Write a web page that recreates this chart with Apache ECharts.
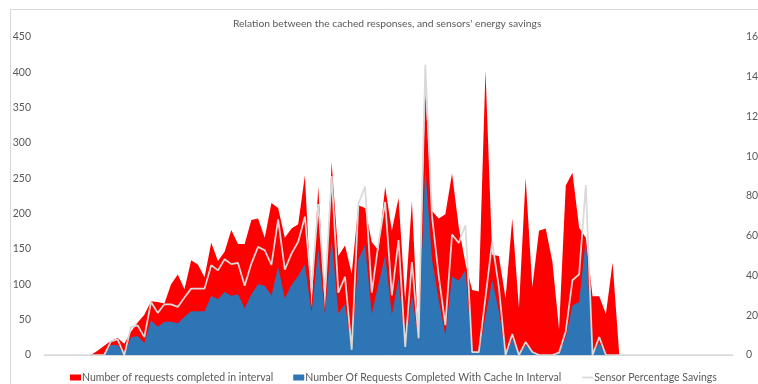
<!DOCTYPE html>
<html>
<head>
<meta charset="utf-8">
<script src="https://cdn.jsdelivr.net/npm/echarts@6/dist/echarts.min.js"></script>
<style>
  html, body { margin: 0; padding: 0; background: #fff; }
</style>
</head>
<body>
<div id="savings" style="width: 758px; height: 384px;"></div>
<script>
// requests completed per interval (left axis)
const requestsCompleted = [
  0, 0, 0, 0, 0, 0, 0, 0, 6, 13, 20, 24, 16, 33, 46, 57, 76, 75, 73, 100,
  114, 93, 134, 128, 110, 159, 133, 146, 177, 157, 157, 191, 193, 166, 215, 208, 166, 179, 185, 254,
  68, 238, 64, 273, 140, 155, 115, 212, 208, 160, 148, 238, 176, 222, 76, 218, 18, 372, 204, 193,
  199, 257, 181, 130, 92, 90, 403, 142, 140, 80, 193, 66, 251, 96, 176, 179, 132, 36, 240, 258,
  180, 166, 83, 83, 58, 131, 0, 0, 0, 0, 0, 0, 0, 0, 0, 0, 0, 0, 0, 0,
  0, 0, 0, 0
];
// requests completed with cache (left axis)
const requestsWithCache = [
  0, 0, 0, 0, 0, 0, 0, 0, 0, 0, 14, 14, 0, 25, 27, 17, 49, 40, 47, 47,
  45, 54, 62, 62, 62, 84, 79, 89, 84, 86, 66, 86, 100, 98, 84, 125, 80, 99, 112, 128,
  60, 150, 58, 165, 59, 72, 6, 135, 156, 58, 100, 141, 57, 108, 11, 85, 21, 266, 135, 78,
  28, 111, 105, 120, 3, 3, 54, 106, 62, 0, 22, 0, 14, 4, 0, 0, 0, 2, 25, 70,
  75, 165, 0, 17, 0, 0, 0, 0, 0, 0, 0, 0, 0, 0, 0, 0, 0, 0, 0, 0,
  0, 0, 0, 0
];
// sensor percentage savings (right axis)
const sensorSavings = [
  0, 0, 0, 0, 0, 0, 0, 0, 0, 0, 6.9, 7.9, 0, 14, 14.9, 9, 26.7, 21.2, 25.5, 25.5,
  24.2, 28.9, 33.4, 33.4, 33.4, 45.2, 42.6, 48.2, 45.7, 46.3, 34.8, 46, 54.4, 52.7, 45.3, 68.2, 43, 51, 57, 69.6,
  33, 76, 30, 90, 31.4, 39.3, 2.6, 76, 84.8, 31.4, 56, 77, 30, 57.8, 4, 46.8, 8.5, 146, 70, 40,
  15, 60.6, 56.4, 65.3, 1.5, 1.5, 29, 57, 34, 0, 10.5, 0, 6.5, 1.5, 0, 0, 0, 1.2, 12, 37.6,
  40.6, 85.5, 0, 9, 0, 0, 0, 0, 0, 0, 0, 0, 0, 0, 0, 0, 0, 0, 0, 0,
  0, 0, 0, 0
];
const intervals = [];
for (let i = 1; i <= requestsCompleted.length; i++) intervals.push(String(i));

const seriesNames = [
  "Number of requests completed in interval",
  "Number Of Requests Completed With Cache In Interval",
  "Sensor Percentage Savings"
];

const font = "Lato, 'Open Sans', sans-serif";
const myChart = echarts.init(document.getElementById("savings"));
myChart.setOption({
  animation: false,
  textStyle: { fontFamily: font },
  title: {
    text: "Relation between the cached responses, and sensors' energy savings",
    left: 228,
    top: 14,
    textStyle: { color: "#595959", fontSize: 10.3, fontWeight: "normal", fontFamily: font }
  },
  // thin frame of the original chart area
  graphic: [{
    type: "rect",
    silent: true,
    shape: { x: 10.5, y: 9.5, width: 800, height: 400 },
    style: { fill: "none", stroke: "#d9d9d9", lineWidth: 1 }
  }],
  legend: {
    left: 65,
    top: 367,
    width: 720,
    itemWidth: 11,
    itemHeight: 6,
    itemGap: 20,
    textStyle: { color: "#595959", fontSize: 10.5, fontFamily: font, padding: [0, 0, 0, -4] },
    data: [
      { name: seriesNames[0], icon: "rect" },
      { name: seriesNames[1], icon: "rect" },
      {
        name: seriesNames[2],
        itemStyle: { opacity: 0 },
        lineStyle: { color: "#d9d9d9", width: 1.75 }
      }
    ]
  },
  grid: { left: 44, right: 25, top: 37, bottom: 29, outerBoundsMode: "none", containLabel: false },
  xAxis: {
    type: "category",
    boundaryGap: false,
    data: intervals,
    axisLine: { lineStyle: { color: "#d9d9d9", width: 1 } },
    axisTick: { show: false },
    axisLabel: { show: false }
  },
  yAxis: [
    {
      type: "value",
      min: 0,
      max: 450,
      interval: 50,
      splitLine: { show: false },
      axisLine: { show: false },
      axisTick: { show: false },
      axisLabel: { color: "#595959", fontSize: 10.5, margin: 13 }
    },
    {
      type: "value",
      min: 0,
      max: 160,
      interval: 20,
      splitLine: { show: false },
      axisLine: { show: false },
      axisTick: { show: false },
      axisLabel: { color: "#595959", fontSize: 10.5, margin: 13 }
    }
  ],
  series: [
    {
      name: seriesNames[0],
      type: "line",
      yAxisIndex: 0,
      data: requestsCompleted,
      symbol: "none",
      lineStyle: { width: 0 },
      itemStyle: { color: "#ff0000" },
      areaStyle: { color: "#ff0000", opacity: 1 }
    },
    {
      name: seriesNames[1],
      type: "line",
      yAxisIndex: 0,
      data: requestsWithCache,
      symbol: "none",
      lineStyle: { width: 0 },
      itemStyle: { color: "#2e75b6" },
      areaStyle: { color: "#2e75b6", opacity: 1 }
    },
    {
      name: seriesNames[2],
      type: "line",
      yAxisIndex: 1,
      data: sensorSavings,
      symbol: "none",
      itemStyle: { color: "#d9d9d9" },
      lineStyle: { color: "#d9d9d9", width: 1.75 }
    }
  ]
});
</script>
</body>
</html>
